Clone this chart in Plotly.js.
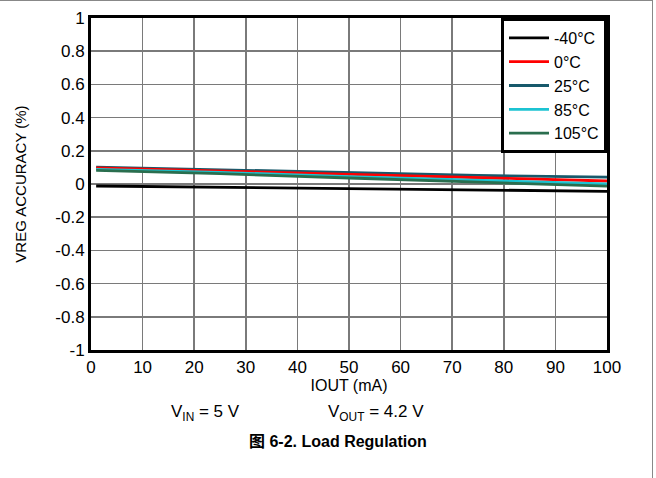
<!DOCTYPE html>
<html>
<head>
<meta charset="utf-8">
<script src="https://cdn.plot.ly/plotly-3.0.1.min.js"></script>
<style>
body{margin:0;padding:0;background:#fff;}
#wrap{position:relative;width:656px;height:478px;}
#chart{width:656px;height:478px;}
#frame{position:absolute;left:0;top:0;width:653px;height:478px;border-top:1.5px solid #888;border-right:1.5px solid #888;box-sizing:border-box;pointer-events:none;}
</style>
</head>
<body>
<div id="wrap"><div id="chart"></div><div id="frame"></div></div>
<script>
const iout = [1, 25, 50, 75, 100];
const seriesNames = ["-40°C", "0°C", "25°C", "85°C", "105°C"];
const vM40 = [-0.012, -0.020, -0.030, -0.037, -0.044];
const v0 = [0.097, 0.078, 0.055, 0.035, 0.018];
const v25 = [0.102, 0.085, 0.066, 0.052, 0.041];
const v85 = [0.088, 0.070, 0.045, 0.022, 0.001];
const v105 = [0.082, 0.062, 0.036, 0.012, -0.013];
const colors = ["#000000", "#ff0000", "#17596b", "#1cc3d2", "#2a6e4e"];
const xTicks = [0, 10, 20, 30, 40, 50, 60, 70, 80, 90, 100];
const yTicks = [1, 0.8, 0.6, 0.4, 0.2, 0, -0.2, -0.4, -0.6, -0.8, -1];
const yTickText = ["1", "0.8", "0.6", "0.4", "0.2", "0", "-0.2", "-0.4", "-0.6", "-0.8", "-1"];

const allY = [vM40, v0, v25, v85, v105];
const drawOrder = [0, 2, 1, 3, 4];
const traces = drawOrder.map(i => ({
  x: iout, y: allY[i], name: seriesNames[i], type: "scatter", mode: "lines",
  line: {color: colors[i], width: 2.8}, legendrank: i + 1
}));

const font = {family: "Arial, 'Liberation Sans', 'Noto Sans CJK SC', sans-serif", color: "#000"};
const layout = {
  width: 656, height: 478,
  margin: {l: 91, r: 49, t: 18, b: 128},
  paper_bgcolor: "#fff", plot_bgcolor: "#fff",
  font: Object.assign({size: 14}, font),
  showlegend: true,
  legend: {x: 1, y: 1, xanchor: "right", yanchor: "top", bgcolor: "#fff",
    bordercolor: "#000", borderwidth: 3, font: Object.assign({size: 16}, font),
    traceorder: "normal", itemwidth: 40},
  xaxis: {range: [0, 100], tickvals: xTicks, ticktext: xTicks.map(String),
    showgrid: true, gridcolor: "#7a7a7a", gridwidth: 1.5, zeroline: false,
    showline: true, linecolor: "#000", linewidth: 3, mirror: true, ticks: "",
    tickfont: Object.assign({size: 17}, font),
    title: {text: "IOUT (mA)", font: Object.assign({size: 16}, font), standoff: 0}},
  yaxis: {range: [-1, 1], tickvals: yTicks, ticktext: yTickText,
    showgrid: true, gridcolor: "#7a7a7a", gridwidth: 1.5, zeroline: false,
    showline: true, linecolor: "#000", linewidth: 3, mirror: true, ticks: "",
    tickfont: Object.assign({size: 17}, font),
    title: {text: "VREG ACCURACY (%)", font: Object.assign({size: 15}, font), standoff: 26}},
  annotations: [
    {text: "V<sub>IN</sub> = 5 V", xref: "paper", yref: "paper", x: (205 - 91) / 516, y: (350 - 413) / 332,
     xanchor: "center", yanchor: "middle", showarrow: false, font: Object.assign({size: 17}, font)},
    {text: "V<sub>OUT</sub> = 4.2 V", xref: "paper", yref: "paper", x: (376 - 91) / 516, y: (350 - 413) / 332,
     xanchor: "center", yanchor: "middle", showarrow: false, font: Object.assign({size: 17}, font)},
    {text: "<b>图 6-2. Load Regulation</b>", xref: "paper", yref: "paper", x: (338 - 91) / 516, y: (350 - 441) / 332,
     xanchor: "center", yanchor: "middle", showarrow: false, font: Object.assign({size: 16}, font)}
  ]
};
Plotly.newPlot("chart", traces, layout, {displayModeBar: false, staticPlot: true});
</script>
</body>
</html>
